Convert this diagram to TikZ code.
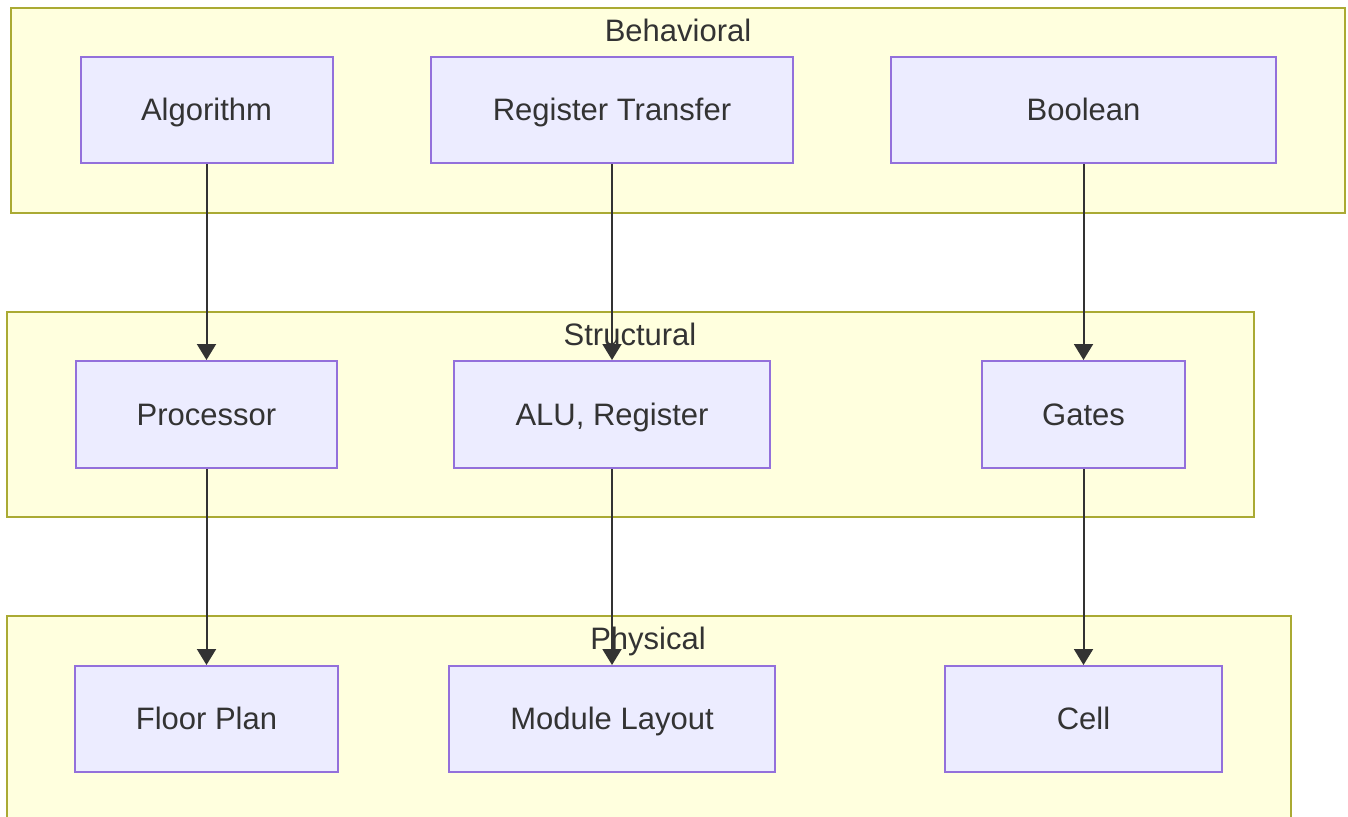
\documentclass[tikz,border=0pt]{standalone}
\usepackage{fontspec}
\setmainfont{Liberation Sans}
\usetikzlibrary{arrows.meta}
\definecolor{clfill}{HTML}{FFFFDE}
\definecolor{clline}{HTML}{AAAA33}
\definecolor{ndfill}{HTML}{ECECFF}
\definecolor{ndline}{HTML}{9370DB}
\definecolor{ink}{HTML}{333333}
\begin{document}
\begin{tikzpicture}[x=1pt,y=-1pt,
  cluster/.style={draw=clline,fill=clfill,line width=2pt},
  cltitle/.style={text=ink,font=\fontsize{31}{36}\selectfont,inner sep=0pt,
    text height=27pt,text depth=6pt},
  box/.style={draw=ndline,fill=ndfill,line width=2pt,text=ink,
    font=\fontsize{31}{36}\selectfont,inner sep=0pt,
    text height=27pt,text depth=6pt},
  flow/.style={draw=ink,line width=2pt,-{Triangle[length=16pt,width=19pt]}}]
\useasboundingbox (0,0) rectangle (1348,816);
% layer frames
\draw[cluster] (11,8) rectangle (1345,213);
\node[cltitle] (tb) at (678,31) {Behavioral};
\draw[cluster] (7,312) rectangle (1254,517);
\node[cltitle] (ts) at (630,335) {Structural};
\draw[cluster] (7,616) -- (7,830) -- (1291,830) -- (1291,616) -- cycle;
\node[cltitle] (tp) at (648,639) {Physical};
% behavioral domain
\node[box,minimum width=252pt,minimum height=106pt] (alg) at (206.5,110) {Algorithm};
\node[box,minimum width=362pt,minimum height=106pt] (rt) at (612,110) {Register Transfer};
\node[box,minimum width=385pt,minimum height=106pt] (bool) at (1083.5,110) {Boolean};
% structural domain
\node[box,minimum width=261pt,minimum height=107pt] (proc) at (206.5,414.5) {Processor};
\node[box,minimum width=316pt,minimum height=107pt] (alu) at (612,414.5) {ALU, Register};
\node[box,minimum width=203pt,minimum height=107pt] (gates) at (1083.5,414.5) {Gates};
% physical domain
\node[box,minimum width=263pt,minimum height=106pt] (fp) at (206.5,719) {Floor Plan};
\node[box,minimum width=326pt,minimum height=106pt] (ml) at (612,719) {Module Layout};
\node[box,minimum width=277pt,minimum height=106pt] (cell) at (1083.5,719) {Cell};
% refinements between levels
\draw[flow] (alg.south) -- (proc.north);
\draw[flow] (rt.south) -- (alu.north);
\draw[flow] (bool.south) -- (gates.north);
\draw[flow] (proc.south) -- (fp.north);
\draw[flow] (alu.south) -- (ml.north);
\draw[flow] (gates.south) -- (cell.north);
\end{tikzpicture}
\end{document}
